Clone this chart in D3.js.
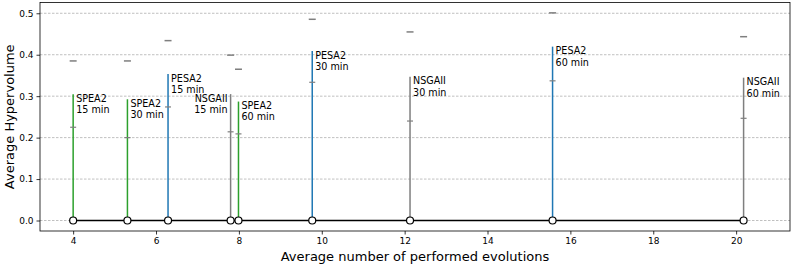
<!DOCTYPE html>
<html><head><meta charset="utf-8">
<script src="https://cdn.jsdelivr.net/npm/d3@7"></script>
<style>body{margin:0;background:#fff;} svg{display:block;font-family:"DejaVu Sans",sans-serif;}</style>
</head><body>
<svg id="c" width="797" height="266"></svg>
<script>
const algorithms = ["SPEA2","SPEA2","PESA2","NSGAII","SPEA2","PESA2","NSGAII","PESA2","NSGAII"];
const budgets = ["15 min","30 min","15 min","15 min","60 min","30 min","30 min","60 min","60 min"];
const evolutions = [4.0, 5.31, 6.29, 7.80, 7.99, 9.77, 12.13, 15.57, 20.18];
const lineTop = [0.3045, 0.2925, 0.3535, 0.305, 0.287, 0.409, 0.347, 0.4195, 0.3446];
const meanMark = [0.225, 0.200, 0.274, 0.214, 0.209, 0.3335, 0.240, 0.337, 0.2466];
const maxMark = [0.385, 0.385, 0.434, 0.399, 0.365, 0.4855, 0.455, 0.501, 0.4435];
const labelSide = ["right","right","right","left","right","right","right","right","right"];
const xTicks = [4,6,8,10,12,14,16,18,20];
const yTicks = [0.0,0.1,0.2,0.3,0.4,0.5];
const colorOf = {SPEA2:"#2ca02c", PESA2:"#1f77b4", NSGAII:"#7f7f7f"};

const svg = d3.select("#c");
const L=40, R=790, T=2.5, B=231;
const x = d3.scaleLinear().domain([3.2, 21.3]).range([L, R]);
const y = d3.scaleLinear().domain([-0.0253, 0.526]).range([B, T]);

// grid
svg.append("g").selectAll("line").data(yTicks).join("line")
  .attr("x1",L).attr("x2",R).attr("y1",d=>y(d)).attr("y2",d=>y(d))
  .attr("stroke","#b0b0b0").attr("stroke-width",0.8).attr("stroke-dasharray","2.5,1.5");

// axes
const xAxis = d3.axisBottom(x).tickValues(xTicks).tickFormat(d3.format("d")).tickSize(3.5).tickPadding(3);
const yAxis = d3.axisLeft(y).tickValues(yTicks).tickFormat(d3.format(".1f")).tickSize(3.5).tickPadding(3);
const gx = svg.append("g").attr("transform",`translate(0,${B})`).call(xAxis);
const gy = svg.append("g").attr("transform",`translate(${L},0)`).call(yAxis);
[gx,gy].forEach(g=>{
  g.select(".domain").remove();
  g.selectAll(".tick line").attr("stroke","#000").attr("stroke-width",0.8);
  g.selectAll(".tick text").attr("font-family","DejaVu Sans").attr("font-size",9).attr("fill","#000");
});

const idx = d3.range(evolutions.length);

// vertical stems
svg.append("g").selectAll("line").data(idx).join("line")
  .attr("x1",i=>x(evolutions[i])).attr("x2",i=>x(evolutions[i]))
  .attr("y1",y(0)).attr("y2",i=>y(lineTop[i]))
  .attr("stroke",i=>colorOf[algorithms[i]]).attr("stroke-width",1.5);

// mean ticks
svg.append("g").selectAll("line").data(idx).join("line")
  .attr("x1",i=>x(evolutions[i])-3).attr("x2",i=>x(evolutions[i])+3)
  .attr("y1",i=>y(meanMark[i])).attr("y2",i=>y(meanMark[i]))
  .attr("stroke","#7f7f7f").attr("stroke-width",1.2);

// max dashes
svg.append("g").selectAll("line").data(idx).join("line")
  .attr("x1",i=>x(evolutions[i])-3.5).attr("x2",i=>x(evolutions[i])+3.5)
  .attr("y1",i=>y(maxMark[i])).attr("y2",i=>y(maxMark[i]))
  .attr("stroke","#7f7f7f").attr("stroke-width",1.5);

// baseline
const line = d3.line().x(i=>x(evolutions[i])).y(()=>y(0));
svg.append("path").datum(idx).attr("d",line).attr("fill","none").attr("stroke","#000").attr("stroke-width",1.5);
svg.append("g").selectAll("circle").data(idx).join("circle")
  .attr("cx",i=>x(evolutions[i])).attr("cy",y(0)).attr("r",3.5)
  .attr("fill","#fff").attr("stroke","#000").attr("stroke-width",1.2);

// labels
const lab = svg.append("g").selectAll("text").data(idx).join("text")
  .attr("font-size",9.6).attr("fill","#000")
  .attr("text-anchor",i=>labelSide[i]==="left"?"end":"start")
  .attr("transform",i=>`translate(${x(evolutions[i]) + (labelSide[i]==="left"?-3:3)},${y(lineTop[i])+7.6})`);
lab.append("tspan").attr("x",0).attr("y",0).text(i=>algorithms[i]);
lab.append("tspan").attr("x",0).attr("y",11.3).text(i=>budgets[i]);

// frame
svg.append("rect").attr("x",L).attr("y",T).attr("width",R-L).attr("height",B-T)
  .attr("fill","none").attr("stroke","#000").attr("stroke-width",0.8);

// axis titles
svg.append("text").attr("x",(L+R)/2).attr("y",261).attr("text-anchor","middle")
  .attr("font-size",13).text("Average number of performed evolutions");
svg.append("text").attr("transform",`translate(14,${(T+B)/2}) rotate(-90)`).attr("text-anchor","middle")
  .attr("font-size",13).text("Average Hypervolume");
</script>
</body></html>
